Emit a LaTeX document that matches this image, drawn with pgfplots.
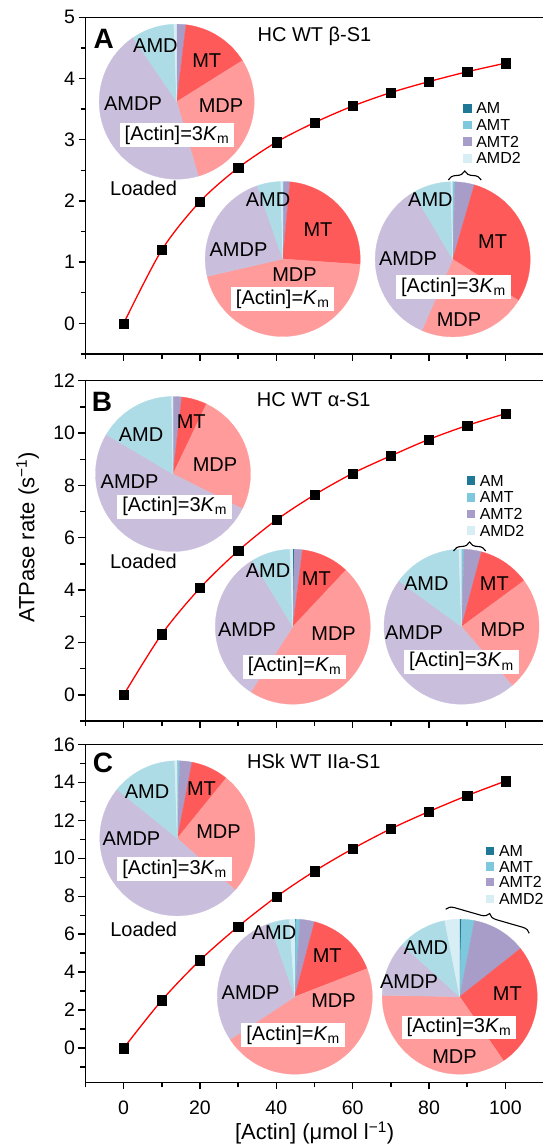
\documentclass[border=0pt]{standalone}
\usepackage{fontspec}
\setmainfont{Liberation Sans}
\usepackage{pgfplots}
\usepackage{pgfplotstable}
\pgfplotsset{compat=1.18}
\usetikzlibrary{decorations.pathreplacing}

\definecolor{cAM}{HTML}{1E7896}
\definecolor{cAMT}{HTML}{7DC8DC}
\definecolor{cAMTtwo}{HTML}{A89CC8}
\definecolor{cMT}{HTML}{FF5A5A}
\definecolor{cMDP}{HTML}{FF9B9B}
\definecolor{cAMDP}{HTML}{C9BFDC}
\definecolor{cAMD}{HTML}{ADDCE6}
\definecolor{cAMDtwo}{HTML}{D7EEF5}

\newcommand\tickfont{\fontsize{19.5}{20}\selectfont}
\newcommand\labfont{\fontsize{20}{22}\selectfont}
\newcommand\axfont{\fontsize{22}{24}\selectfont}
\newcommand\legfont{\fontsize{16}{17}\selectfont}
\newcommand\letfont{\fontsize{28}{30}\selectfont\bfseries}
\newcommand\Km{\textit{K}\textsubscript{m}}

% ATPase rate vs [Actin]
\pgfplotstableread{
x y
0 0
10 1.20
20 1.99
30 2.54
40 2.96
50 3.28
60 3.55
70 3.77
80 3.95
90 4.11
100 4.25
}\dataA
\pgfplotstableread{
x y
0 0
10 2.32
20 4.08
30 5.50
40 6.68
50 7.64
60 8.46
70 9.13
80 9.76
90 10.29
100 10.74
}\dataB
\pgfplotstableread{
x y
0 0
10 2.52
20 4.63
30 6.40
40 7.97
50 9.32
60 10.50
70 11.55
80 12.46
90 13.30
100 14.06
}\dataC

% one slice, clockwise from \pieStart, size in percent
\newcommand\slice[2]{%
  \ifdim#2pt>0pt
    \pgfmathsetmacro\pieEnd{\pieStart-3.6*#2}%
    \edef\tmp{\noexpand\addplot[draw=#1, line width=0.3pt, fill=#1,
      domain=\pieEnd:\pieStart, samples=60] ({cos(x)},{sin(x)}) -- (axis cs:0,0) -- cycle;}%
    \tmp
    \global\let\pieStart\pieEnd
  \fi}
% AM, AMT, AMT2, MT, MDP, AMDP, AMD, AMD2 (percent)
\newcommand\pie[8]{%
  \gdef\pieStart{90}%
  \slice{cAM}{#1}\slice{cAMT}{#2}\slice{cAMTtwo}{#3}\slice{cMT}{#4}%
  \slice{cMDP}{#5}\slice{cAMDP}{#6}\slice{cAMD}{#7}\slice{cAMDtwo}{#8}}
\newcommand\legrow[4]{%
  \node[fill=#1, minimum size=8.5pt, inner sep=0pt] at (#3,#4) {};
  \node[font=\legfont, inner sep=0pt, anchor=west, xshift=8.8pt] at (#3,#4) {#2};}
% x, then y of the four rows
\newcommand\pielegend[5]{%
  \legrow{cAM}{AM}{#1}{#2}
  \legrow{cAMT}{AMT}{#1}{#3}
  \legrow{cAMTtwo}{AMT2}{#1}{#4}
  \legrow{cAMDtwo}{AMD2}{#1}{#5}}

\tikzset{box/.style={fill=white, inner xsep=5pt, inner ysep=2.5pt, font=\labfont},
  pl/.style={font=\labfont}}
\pgfplotsset{
  main/.style={scale only axis, width=458pt, xmin=-10, xmax=110,
    xtick={0,20,...,100}, minor xtick={-10,10,...,110},
    tick pos=left, tick align=outside,
    major tick length=7pt, minor tick length=5pt,
    axis line style={line width=1.5pt},
    every tick/.style={black, line width=1.4pt},
    tick label style={font=\tickfont},
    xticklabel style={yshift=-8pt},
    /pgf/number format/assume math mode=true,
    clip=false, anchor=north west},
  pie/.style={hide axis, scale only axis, width=155pt, height=155pt,
    xmin=-1, xmax=1, ymin=-1, ymax=1, clip=false, anchor=center},
  curve/.style={red, line width=1.3pt, smooth, no markers},
  pts/.style={only marks, mark=square*, mark size=4.6pt, black}
}

\begin{document}
\begin{tikzpicture}
\useasboundingbox (0,0) rectangle (542pt,-1145pt);

% ---------------- A
\begin{axis}[main, at={(85.5pt,-17.3pt)}, height=336.7pt,
  ymin=-0.5, ymax=5, ytick={0,...,5}, minor ytick={-0.5,0.5,...,4.5},
  xticklabels={}]
\addplot[pts] table {\dataA};
\addplot[curve] table {\dataA};
\node[font=\letfont] at (axis cs:-5.24,4.65) {A};
\node[pl] at (axis cs:50,4.687) {HC WT β-S1};
\end{axis}
\begin{axis}[pie, at={(176.7pt,-101.7pt)}]
\pie{0}{0}{1.9}{14.2}{29.4}{45.0}{8.9}{0.6}
\node[pl] at (-0.274,0.719) {AMD};
\node[pl] at (0.387,0.525) {MT};
\node[pl] at (-0.564,-0.03) {AMDP};
\node[pl] at (0.572,-0.055) {MDP};
\node[box] at (0.004,-0.43) {[Actin]=3\Km};
\node[pl] at (-0.428,-1.114) {Loaded};
\end{axis}
\begin{axis}[pie, at={(282.7pt,-259pt)}]
\pie{0}{0.3}{1.2}{24.6}{45.3}{23.3}{4.9}{0.4}
\node[pl] at (-0.19,0.77) {AMD};
\node[pl] at (0.455,0.374) {MT};
\node[pl] at (-0.57,0.125) {AMDP};
\node[pl] at (0.152,-0.206) {MDP};
\node[box] at (0,-0.516) {[Actin]=\Km};
\end{axis}
\begin{axis}[pie, at={(452.7pt,-259.3pt)}]
\pie{0.1}{0.4}{4.0}{29.4}{22.6}{35.0}{8.1}{0.4}
\node[pl] at (-0.288,0.774) {AMD};
\node[pl] at (0.515,0.227) {MT};
\node[pl] at (-0.577,0.013) {AMDP};
\node[box] at (0.01,-0.361) {[Actin]=3\Km};
\node[pl] at (0.081,-0.774) {MDP};
\pielegend{0.188}{1.948}{1.733}{1.518}{1.303}
\draw[decorate, decoration={brace, amplitude=9pt}, line width=1.1pt]
  (-0.057,1.023) -- (0.368,1.023);
\end{axis}

% ---------------- B
\begin{axis}[main, at={(85.5pt,-380.7pt)}, height=340.3pt,
  ymin=-1, ymax=12, ytick={0,2,...,12}, minor ytick={-1,1,...,11},
  xticklabels={}]
\addplot[pts] table {\dataB};
\addplot[curve] table {\dataB};
\node[font=\letfont] at (axis cs:-5.69,11.2) {B};
\node[pl] at (axis cs:49.8,11.29) {HC WT α-S1};
\end{axis}
\begin{axis}[pie, at={(173pt,-474pt)}]
\pie{0}{0}{1.8}{5.3}{25.3}{51.1}{16.2}{0.3}
\node[pl] at (-0.413,0.503) {AMD};
\node[pl] at (0.235,0.675) {MT};
\node[pl] at (-0.56,-0.099) {AMDP};
\node[pl] at (0.542,0.116) {MDP};
\node[box] at (0.021,-0.422) {[Actin]=3\Km};
\node[pl] at (-0.381,-1.123) {Loaded};
\end{axis}
\begin{axis}[pie, at={(292.8pt,-626.7pt)}]
\pie{0.3}{0}{1.7}{10.0}{47.1}{32.2}{8.1}{0.6}
\node[pl] at (-0.32,0.719) {AMD};
\node[pl] at (0.303,0.625) {MT};
\node[pl] at (-0.591,-0.043) {AMDP};
\node[pl] at (0.526,-0.085) {MDP};
\node[box] at (0.022,-0.516) {[Actin]=\Km};
\end{axis}
\begin{axis}[pie, at={(461.5pt,-626.7pt)}]
\pie{0.1}{0.45}{3.6}{10.75}{23.8}{46.35}{14.4}{0.55}
\node[pl] at (-0.455,0.56) {AMD};
\node[pl] at (0.423,0.56) {MT};
\node[pl] at (-0.613,-0.077) {AMDP};
\node[pl] at (0.535,-0.034) {MDP};
\node[box] at (0,-0.452) {[Actin]=3\Km};
\pielegend{0.12}{1.884}{1.669}{1.454}{1.239}
\draw[decorate, decoration={brace, amplitude=9pt}, line width=1.1pt]
  (-0.103,0.977) -- (0.312,0.977);
\end{axis}

% ---------------- C
\begin{axis}[main, at={(85.5pt,-744.3pt)}, height=338pt,
  ymin=-1.8, ymax=16, ytick={0,2,...,16}, minor ytick={-1,1,...,15}]
\addplot[pts] table {\dataC};
\addplot[curve] table {\dataC};
\node[font=\letfont] at (axis cs:-5.42,15.0) {C};
\node[pl] at (axis cs:49.8,15.09) {HSk WT IIa-S1};
\end{axis}
\begin{axis}[pie, at={(177.3pt,-838.3pt)}]
\pie{0.1}{0.4}{2.55}{7.8}{25.75}{49.25}{13.6}{0.55}
\node[pl] at (-0.391,0.601) {AMD};
\node[pl] at (0.312,0.645) {MT};
\node[pl] at (-0.592,0) {AMDP};
\node[pl] at (0.532,0.085) {MDP};
\node[box] at (-0.035,-0.4) {[Actin]=3\Km};
\node[pl] at (-0.434,-1.174) {Loaded};
\end{axis}
\begin{axis}[pie, at={(294.8pt,-996.7pt)}]
\pie{0.2}{0.9}{3.0}{15.0}{46.6}{29.0}{4.2}{1.1}
\node[pl] at (-0.268,0.831) {AMD};
\node[pl] at (0.419,0.525) {MT};
\node[pl] at (-0.57,0.057) {AMDP};
\node[pl] at (0.5,-0.052) {MDP};
\node[box] at (-0.022,-0.494) {[Actin]=\Km};
\end{axis}
\begin{axis}[pie, at={(459.7pt,-996.7pt)}]
\pie{0.35}{2.7}{11.3}{26.1}{34.85}{11.4}{10.2}{3.1}
\node[pl] at (-0.436,0.632) {AMD};
\node[pl] at (0.615,0.035) {MT};
\node[pl] at (-0.654,0.194) {AMDP};
\node[box] at (-0.009,-0.395) {[Actin]=3\Km};
\node[pl] at (-0.067,-0.774) {MDP};
\pielegend{0.391}{1.88}{1.678}{1.477}{1.261}
\draw[decorate, decoration={brace, amplitude=8pt}, line width=1.1pt]
  (-0.181,1.128) -- (0.898,0.818);
\end{axis}

\node[rotate=90, font=\axfont] at (27.5pt,-537.5pt) {ATPase rate (s\textsuperscript{−1})};
\node[font=\axfont] at (314.6pt,-1133pt) {[Actin] (μmol l\textsuperscript{−1})};
\end{tikzpicture}
\end{document}
